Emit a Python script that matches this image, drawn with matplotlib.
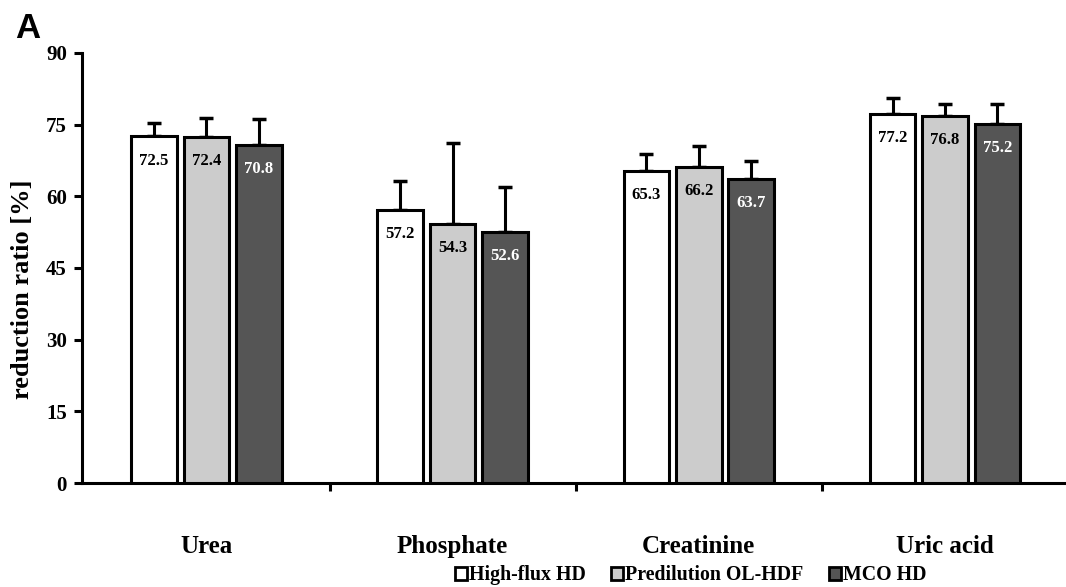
import numpy as np
import matplotlib
matplotlib.use('Agg')
import matplotlib.pyplot as plt
from matplotlib.patches import Patch

# data
categories = ['Urea', 'Phosphate', 'Creatinine', 'Uric acid']
series = ['High-flux HD', 'Predilution OL-HDF', 'MCO HD']
high_flux = [72.5, 57.2, 65.3, 77.2]
predilution = [72.4, 54.3, 66.2, 76.8]
mco = [70.8, 52.6, 63.7, 75.2]
high_flux_err = [2.8, 6.0, 3.5, 3.3]
predilution_err = [4.0, 16.8, 4.4, 2.5]
mco_err = [5.3, 9.4, 3.7, 4.1]

values = [high_flux, predilution, mco]
errors = [high_flux_err, predilution_err, mco_err]
colors = ['white', '#cccccc', '#555555']
text_colors = ['black', 'black', 'white']

serif = 'Liberation Serif'

fig = plt.figure(figsize=(10.66, 5.87), dpi=100)
ax = fig.add_axes([0.077, 0.177, 0.925, 0.733])

x = np.arange(len(categories))
width = 0.185
offset = 0.213

for i in range(3):
    pos = x + (i - 1) * offset
    ax.bar(pos, values[i], width, color=colors[i], edgecolor='black',
           linewidth=2.2, zorder=3)
    ax.errorbar(pos, values[i], yerr=[np.zeros(4), errors[i]], fmt='none',
                ecolor='black', elinewidth=2.2, capsize=5, capthick=2.5,
                zorder=2)
    for p, v in zip(pos, values[i]):
        ax.text(p, v - 3.4, f'{v:.1f}', ha='center', va='top',
                fontsize=12, fontweight='bold', family=serif,
                color=text_colors[i], zorder=4)

ax.set_xlim(-0.505, 3.5)
ax.set_ylim(0, 90)
ax.set_yticks(np.arange(0, 91, 15))
ax.set_yticklabels([str(t) for t in range(0, 91, 15)], family=serif,
                   fontweight='bold', fontsize=15)
ax.set_xticks([0.5, 1.5, 2.5])
ax.set_xticklabels([])
for i, c in enumerate(categories):
    ax.text(i, -13.3, c, ha='center', va='center', fontsize=18,
            fontweight='bold', family=serif)

ax.spines['top'].set_visible(False)
ax.spines['right'].set_visible(False)
ax.spines['left'].set_linewidth(2.2)
ax.spines['bottom'].set_linewidth(2.2)
ax.tick_params(axis='both', direction='out', length=6, width=2.2)
ax.tick_params(axis='y', pad=5)

ax.set_ylabel('reduction ratio [%]', family=serif, fontweight='bold',
              fontsize=19)
ax.yaxis.set_label_coords(-0.049, 0.45)

handles = [Patch(facecolor=colors[i], edgecolor='black', linewidth=2,
                 label=series[i]) for i in range(3)]
fig.legend(handles=handles, loc='center', bbox_to_anchor=(0.648, 0.02),
           ncol=3, frameon=False, handlelength=0.6, handleheight=0.6,
           handletextpad=0.1, columnspacing=1.3,
           prop={'family': serif, 'weight': 'bold', 'size': 14.3})

fig.text(0.014, 0.935, 'A', fontsize=25, fontweight='bold',
         family='Liberation Sans')

fig.savefig('out.png', dpi=100)
